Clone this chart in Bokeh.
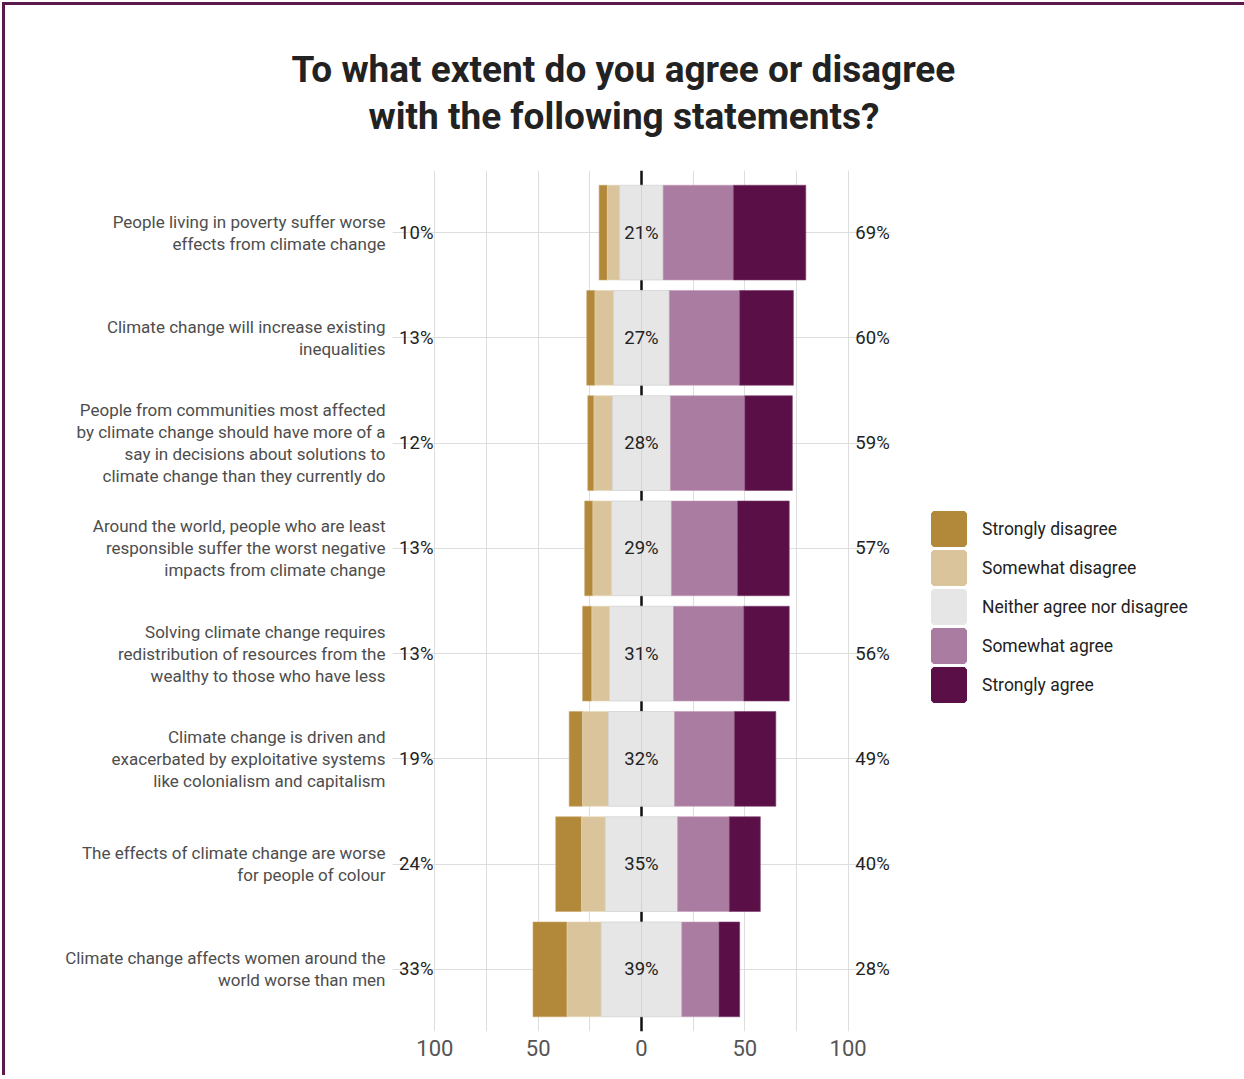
from bokeh.plotting import figure
from bokeh.models import (FactorRange, FixedTicker, Legend, LegendItem, Span,
                          ColumnDataSource, Title)
from bokeh.core.properties import value
from bokeh.embed import file_html
from bokeh.resources import INLINE

# ---------------- data ----------------
statements = [
    "People living in poverty suffer worse\neffects from climate change",
    "Climate change will increase existing\ninequalities",
    "People from communities most affected\nby climate change should have more of a\nsay in decisions about solutions to\nclimate change than they currently do",
    "Around the world, people who are least\nresponsible suffer the worst negative\nimpacts from climate change",
    "Solving climate change requires\nredistribution of resources from the\nwealthy to those who have less",
    "Climate change is driven and\nexacerbated by exploitative systems\nlike colonialism and capitalism",
    "The effects of climate change are worse\nfor people of colour",
    "Climate change affects women around the\nworld worse than men",
]
strongly_disagree = [4, 4, 3, 4, 4.5, 6.5, 12.5, 16.5]
somewhat_disagree = [6, 9, 9, 9, 8.5, 12.5, 11.5, 16.5]
neutral = [21, 27, 28, 29, 31, 32, 35, 39]
somewhat_agree = [34, 34, 36, 32, 34, 29, 25, 18]
strongly_agree = [35, 26, 23, 25, 22, 20, 15, 10]

responses = ["Strongly disagree", "Somewhat disagree", "Neither agree nor disagree",
             "Somewhat agree", "Strongly agree"]
colors = ["#b2893b", "#dac49c", "#e5e6e5", "#ab7ca1", "#5a1046"]

x_ticks = [-100, -50, 0, 50, 100]
x_tick_labels = ["100", "50", "0", "50", "100"]
x_minor_ticks = [-75, -25, 25, 75]

title_line1 = "To what extent do you agree or disagree"
title_line2 = "with the following statements?"

# ---------------- derived geometry ----------------
half_n = [v / 2 for v in neutral]
n_left = [-h for h in half_n]
n_right = half_n
swd_left = [l - s for l, s in zip(n_left, somewhat_disagree)]
sd_left = [l - s for l, s in zip(swd_left, strongly_disagree)]
sa_right = [r + s for r, s in zip(n_right, somewhat_agree)]
sta_right = [r + s for r, s in zip(sa_right, strongly_agree)]

src = ColumnDataSource(dict(
    stmt=statements,
    sd_l=sd_left, swd_l=swd_left, n_l=n_left, zero=[0] * len(statements),
    n_r=n_right, sa_r=sa_right, sta_r=sta_right,
    none=[float("nan")] * len(statements),   # used only by legend keys (never drawn)
    dis_lab=[f"{round(a + b)}%" for a, b in zip(strongly_disagree, somewhat_disagree)],
    n_lab=[f"{round(v)}%" for v in neutral],
    agr_lab=[f"{round(a + b)}%" for a, b in zip(somewhat_agree, strongly_agree)],
))

FW, FH = 498, 861
p = figure(
    frame_width=FW, frame_height=FH,
    y_range=FactorRange(factors=statements[::-1], range_padding=0.0225),
    x_range=(-120.5, 120.5),
    output_backend="svg", toolbar_location=None,
    min_border_left=387, min_border_right=349, min_border_top=165, min_border_bottom=44,
)
p.outline_line_color = None
p.background_fill_color = "white"
p.border_fill_color = "white"
p.styles = {"border-top": "3px solid #5a1a4e", "border-left": "3px solid #5a1a4e",
            "border-right": "3px solid #5a1a4e", "margin": "2px"}

# title: two lines, each centred on the whole chart.
# p.above[0] is nearest to the frame; p.title sits above all of them.
title_style = dict(text_font="Roboto", text_font_size="37px", text_font_style="bold",
                   text_color="#222222", align="left")
p.title.text = title_line1
p.title.offset = -101
p.title.standoff = 4
for k, v in title_style.items():
    setattr(p.title, k, v)
p.add_layout(Title(text=" ", text_font_size="10px", standoff=20), "above")  # spacer
p.add_layout(Title(text=title_line2, offset=-24, standoff=0, **title_style), "above")

# grids
p.xgrid.grid_line_color = "#dedede"
p.xgrid.minor_grid_line_color = "#dedede"
p.ygrid.grid_line_color = "#dedede"

# axes
p.xaxis.ticker = FixedTicker(ticks=x_ticks, minor_ticks=x_minor_ticks)
p.xaxis.major_label_overrides = dict(zip(x_ticks, x_tick_labels))
for ax in (p.xaxis[0], p.yaxis[0]):
    ax.axis_line_color = None
    ax.major_tick_line_color = None
    ax.minor_tick_line_color = None
p.xaxis.major_label_text_font = "Roboto"
p.xaxis.major_label_text_font_size = "22px"
p.xaxis.major_label_text_color = "#555555"
p.xaxis.major_label_standoff = 2
p.yaxis.major_label_text_font = "Roboto"
p.yaxis.major_label_text_font_size = "17px"
p.yaxis.major_label_text_color = "#4d4d4d"
p.yaxis.major_label_text_line_height = 1.1
p.yaxis.major_label_standoff = 1

# zero line under the bars
p.add_layout(Span(location=0, dimension="height", line_color="#111111",
                  line_width=2.5, level="underlay"))

bh = 0.9
r_sd = p.hbar(y="stmt", left="sd_l", right="swd_l", height=bh, source=src,
              fill_color=colors[0], line_color="#c9a56a", line_width=0.6)
r_swd = p.hbar(y="stmt", left="swd_l", right="n_l", height=bh, source=src,
               fill_color=colors[1], line_color="#e6d6b8", line_width=0.6)
r_n1 = p.hbar(y="stmt", left="n_l", right="zero", height=bh, source=src,
              fill_color=colors[2], line_color="#d2d3d2", line_width=0.8)
r_n2 = p.hbar(y="stmt", left="zero", right="n_r", height=bh, source=src,
              fill_color=colors[2], line_color="#d2d3d2", line_width=0.8)
r_sa = p.hbar(y="stmt", left="n_r", right="sa_r", height=bh, source=src,
              fill_color=colors[3], line_color="#c29bb9", line_width=0.6)
r_sta = p.hbar(y="stmt", left="sa_r", right="sta_r", height=bh, source=src,
               fill_color=colors[4], line_color="#7a3a6a", line_width=0.6)

txt = dict(source=src, text_font=value("Roboto"), text_font_size="18.5px",
           text_color="#222222", text_baseline="middle")
p.text(x="zero", y="stmt", text="n_lab", text_align="center", **txt)
p.text(x=-109, y="stmt", text="dis_lab", text_align="center", **txt)
p.text(x=103.5, y="stmt", text="agr_lab", text_align="left", **txt)

# legend keys: bars with non-finite extents are skipped when drawing, so only keys show
swatches = [p.hbar(y="stmt", left="none", right="none", height=bh, source=src,
                   fill_color=c, line_color=c, line_width=4.8)
            for c in colors]

legend = Legend(
    items=[LegendItem(label=lab, renderers=[r]) for lab, r in zip(responses, swatches)],
    location=(39, 327), orientation="vertical",
    glyph_width=39, glyph_height=39, spacing=0, padding=0, margin=0,
    label_standoff=14, label_text_font="Roboto", label_text_font_size="17.5px",
    label_text_color="#222222", border_line_color=None, background_fill_alpha=0,
)
p.add_layout(legend, "right")

open("out.html", "w").write(file_html(p, INLINE))
